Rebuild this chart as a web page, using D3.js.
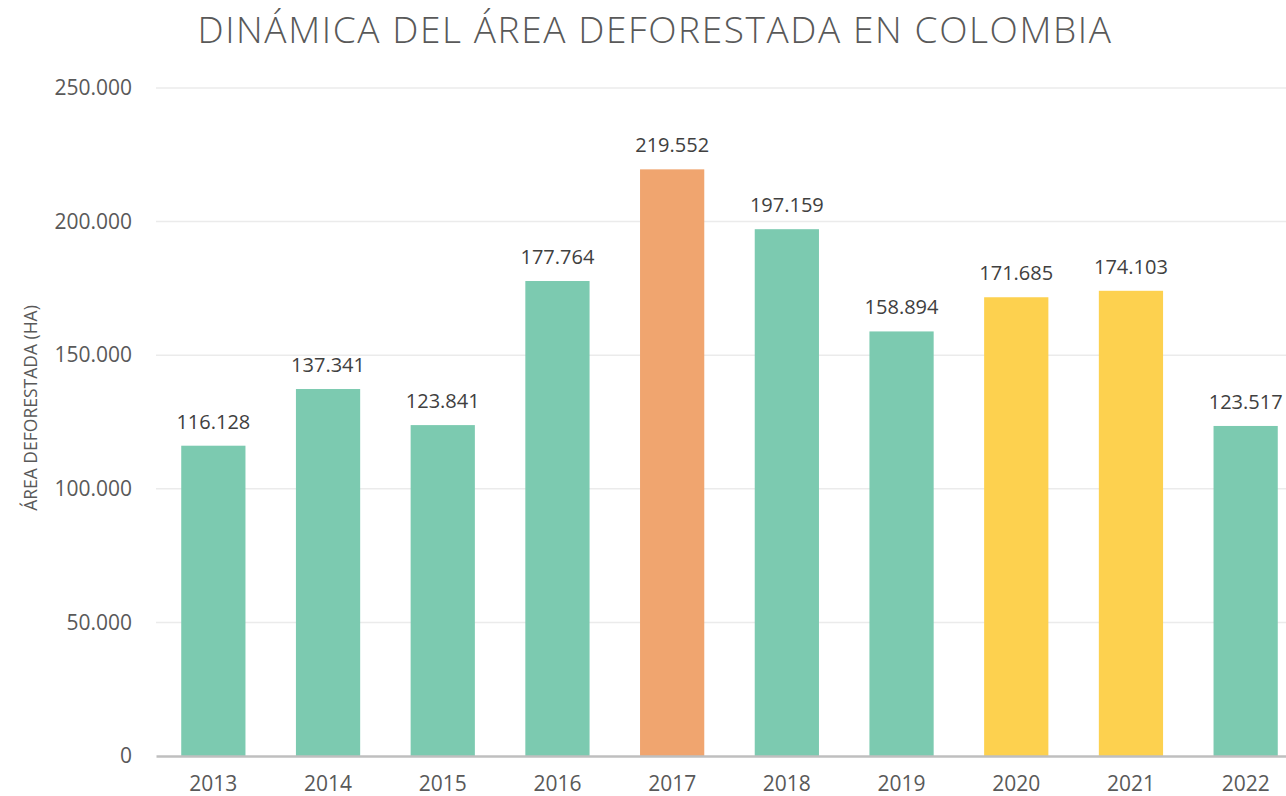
<!DOCTYPE html>
<html>
<head>
<meta charset="utf-8">
<script src="https://cdn.jsdelivr.net/npm/d3@7"></script>
<style>
  body { margin: 0; background: #fff; }
  svg text { font-family: "Open Sans", "Noto Sans", sans-serif; }
</style>
</head>
<body>
<div id="chart"></div>
<script>
// data
var years = ["2013", "2014", "2015", "2016", "2017", "2018", "2019", "2020", "2021", "2022"];
var hectares = [116128, 137341, 123841, 177764, 219552, 197159, 158894, 171685, 174103, 123517];
var barColors = ["#7ccab0", "#7ccab0", "#7ccab0", "#7ccab0", "#f0a56f", "#7ccab0", "#7ccab0", "#fdd14f", "#fdd14f", "#7ccab0"];
var yTicks = [0, 50000, 100000, 150000, 200000, 250000];

var W = 1286, H = 796;
var margin = {top: 88, right: -17, bottom: 40, left: 156};
var width = W - margin.left - margin.right;
var height = H - margin.top - margin.bottom;

var es = d3.formatLocale({decimal: ",", thousands: ".", grouping: [3], currency: ["", ""]});
var fmt = es.format(",.0f");

var svg = d3.select("#chart").append("svg")
    .attr("width", W)
    .attr("height", H);

var g = svg.append("g")
    .attr("transform", "translate(" + margin.left + "," + margin.top + ")");

var x = d3.scaleBand()
    .domain(years)
    .range([0, width])
    .paddingInner(0.44)
    .paddingOuter(0.22);

var y = d3.scaleLinear()
    .domain([0, 250000])
    .range([height, 0]);

// gridlines
g.append("g")
    .selectAll("line")
    .data(yTicks.slice(1))
    .enter()
    .append("line")
    .attr("x1", 0)
    .attr("x2", width)
    .attr("y1", function(d){ return y(d); })
    .attr("y2", function(d){ return y(d); })
    .attr("stroke", "#ebebeb")
    .attr("stroke-width", 1.5);

// y axis labels
var yAxis = d3.axisLeft(y)
    .tickValues(yTicks)
    .tickFormat(fmt)
    .tickSize(0)
    .tickPadding(24);

g.append("g")
    .attr("class", "y-axis")
    .call(yAxis)
    .call(function(s){ s.select(".domain").remove(); })
    .selectAll("text")
    .attr("font-size", "21px")
    .attr("fill", "#595959")
    .attr("font-family", "'Open Sans', sans-serif");

// bars
g.selectAll(".bar")
    .data(hectares)
    .enter()
    .append("rect")
    .attr("class", "bar")
    .attr("x", function(d, i){ return x(years[i]); })
    .attr("y", function(d){ return y(d); })
    .attr("width", x.bandwidth())
    .attr("height", function(d){ return height - y(d); })
    .attr("fill", function(d, i){ return barColors[i]; });

// value labels
g.selectAll(".val")
    .data(hectares)
    .enter()
    .append("text")
    .attr("class", "val")
    .attr("x", function(d, i){ return x(years[i]) + x.bandwidth() / 2; })
    .attr("y", function(d){ return y(d) - 17; })
    .attr("text-anchor", "middle")
    .attr("font-size", "20px")
    .attr("fill", "#404040")
    .text(function(d){ return fmt(d); });

// x axis
var xAxis = d3.axisBottom(x).tickSize(0).tickPadding(20);
var xg = g.append("g")
    .attr("class", "x-axis")
    .attr("transform", "translate(0," + height + ")")
    .call(xAxis);
xg.select(".domain")
    .attr("stroke", "#bfbfbf")
    .attr("stroke-width", 2.5);
xg.selectAll("text")
    .attr("font-size", "21px")
    .attr("fill", "#595959")
    .attr("font-family", "'Open Sans', sans-serif");

// title
svg.append("text")
    .attr("x", 655)
    .attr("y", 43)
    .attr("text-anchor", "middle")
    .attr("font-size", "37px")
    .attr("font-weight", 300)
    .attr("fill", "#595959")
    .attr("letter-spacing", "1.6px")
    .text("DINÁMICA DEL ÁREA DEFORESTADA EN COLOMBIA");

// y title
svg.append("text")
    .attr("transform", "translate(37,408) rotate(-90)")
    .attr("text-anchor", "middle")
    .attr("font-size", "17.5px")
    .attr("fill", "#595959")
    .text("ÁREA DEFORESTADA (HA)");
</script>
</body>
</html>
